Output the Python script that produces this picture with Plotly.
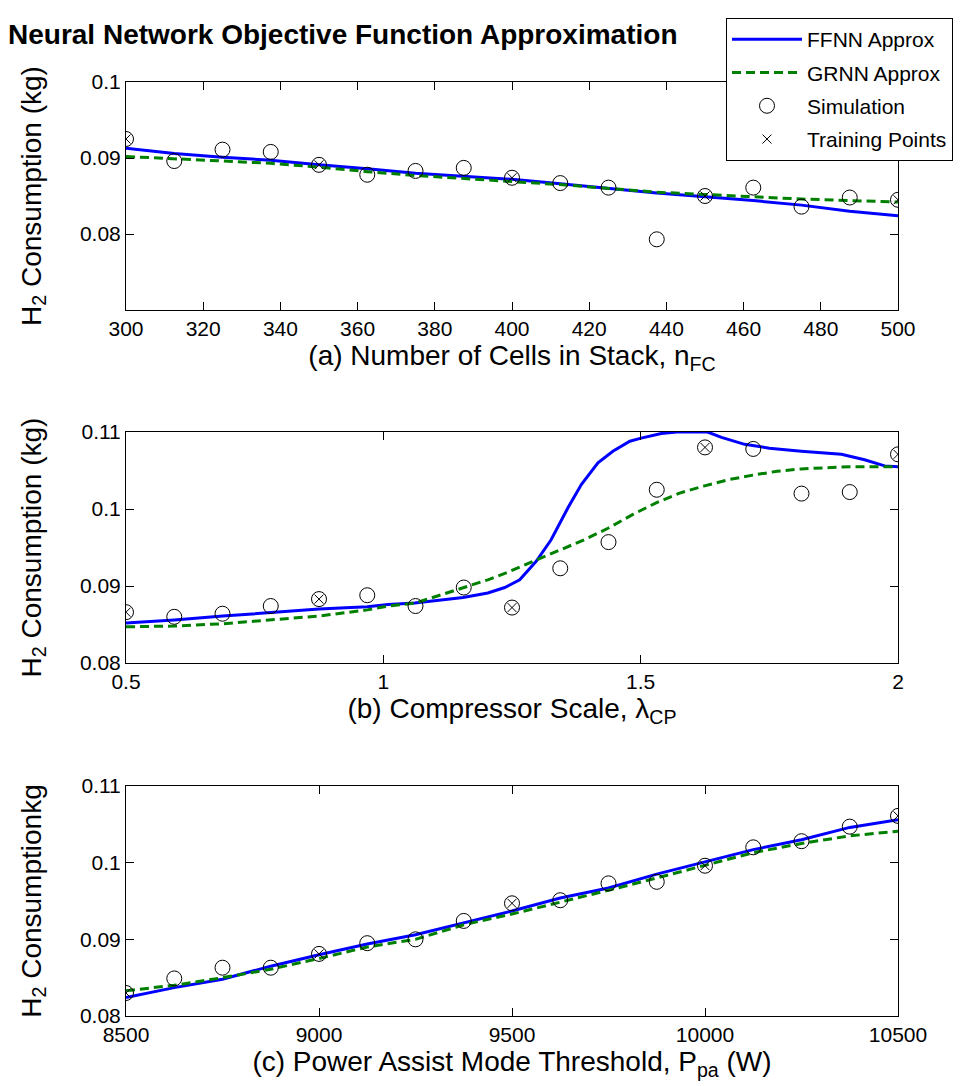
import plotly.graph_objects as go

# (a) number of cells in stack
x_a = [300, 312.5, 325, 337.5, 350, 362.5, 375, 387.5, 400, 412.5, 425,
       437.5, 450, 462.5, 475, 487.5, 500]
ffnn_a = [0.0913, 0.0906, 0.0901, 0.0897, 0.0891, 0.0886, 0.0880, 0.0876, 0.0872,
          0.0866, 0.0860, 0.0854, 0.0849, 0.0844, 0.0838, 0.0830, 0.0824]
grnn_a = [0.0902, 0.0899, 0.0896, 0.0893, 0.0888, 0.0882, 0.0877, 0.0873, 0.0869,
          0.0865, 0.0860, 0.0855, 0.0852, 0.0849, 0.0846, 0.0844, 0.0842]
sim_a = [0.0925, 0.0896, 0.0911, 0.0908, 0.0891, 0.0878, 0.0883, 0.0887, 0.0874,
         0.0867, 0.0861, 0.0793, 0.0850, 0.0861, 0.0836, 0.0848, 0.0845]
train_x_a = [300, 350, 400, 450, 500]
train_a = [0.0925, 0.0891, 0.0874, 0.0850, 0.0845]

# (b) compressor scale
x_b = [0.5, 0.59375, 0.6875, 0.78125, 0.875, 0.96875, 1.0625, 1.15625, 1.25,
       1.34375, 1.4375, 1.53125, 1.625, 1.71875, 1.8125, 1.90625, 2.0]
sim_b = [0.0866, 0.0860, 0.0864, 0.0874, 0.0883, 0.0888, 0.0874, 0.0898, 0.0872,
         0.0923, 0.0957, 0.1025, 0.1080, 0.1078, 0.1020, 0.1022, 0.1071]
train_x_b = [0.5, 0.875, 1.25, 1.625, 2.0]
train_b = [0.0866, 0.0883, 0.0872, 0.1080, 0.1071]
ffnn_x_b = [0.5, 0.594, 0.688, 0.781, 0.875, 0.969, 1.009, 1.061, 1.155, 1.203,
            1.236, 1.265, 1.297, 1.326, 1.359, 1.385, 1.417, 1.446, 1.479, 1.501,
            1.54, 1.57, 1.60, 1.63, 1.657, 1.702, 1.75, 1.812, 1.89, 1.935, 1.974, 2.0]
ffnn_b = [0.0852, 0.0856, 0.0861, 0.0865, 0.0870, 0.0873, 0.0876, 0.0878, 0.0885,
          0.0891, 0.0898, 0.0908, 0.0932, 0.0960, 0.1002, 0.1032, 0.1060, 0.1075,
          0.1088, 0.1092, 0.1098, 0.1100, 0.1100, 0.1100, 0.1093, 0.1084, 0.1079,
          0.1075, 0.1071, 0.1064, 0.1056, 0.1055]
grnn_x_b = [0.5, 0.594, 0.688, 0.781, 0.875, 0.969, 1.009, 1.063, 1.155, 1.203,
            1.242, 1.297, 1.343, 1.39, 1.4365, 1.485, 1.53, 1.577, 1.624, 1.67,
            1.718, 1.765, 1.812, 1.906, 2.0]
grnn_b = [0.0847, 0.0848, 0.0851, 0.0856, 0.0861, 0.0869, 0.0874, 0.0878, 0.0898,
          0.0908, 0.0918, 0.0934, 0.0947, 0.0960, 0.0975, 0.0993, 0.1008, 0.1021,
          0.1030, 0.1038, 0.1044, 0.1049, 0.1052, 0.1055, 0.1055]

# (c) power assist mode threshold
x_c = [8500, 8625, 8750, 8875, 9000, 9125, 9250, 9375, 9500, 9625, 9750, 9875,
       10000, 10125, 10250, 10375, 10500]
sim_c = [0.0830, 0.0849, 0.0863, 0.0863, 0.0881, 0.0895, 0.0900, 0.0924, 0.0947,
         0.0951, 0.0973, 0.0975, 0.0996, 0.1020, 0.1028, 0.1047, 0.1061]
train_x_c = [8500, 9000, 9500, 10000, 10500]
train_c = [0.0830, 0.0881, 0.0947, 0.0996, 0.1061]
ffnn_c = [0.0824, 0.0837, 0.0848, 0.0865, 0.0880, 0.0894, 0.0906, 0.0922, 0.0937,
          0.0954, 0.0967, 0.0985, 0.1001, 0.1017, 0.1030, 0.1046, 0.1056]
grnn_c = [0.0833, 0.0840, 0.0850, 0.0861, 0.0875, 0.0890, 0.0900, 0.0919, 0.0933,
          0.0948, 0.0964, 0.0980, 0.0996, 0.1013, 0.1025, 0.1035, 0.1041]

# tick labels
x_ticks_a = [300, 320, 340, 360, 380, 400, 420, 440, 460, 480, 500]
x_ticks_b = [0.5, 1, 1.5, 2]
x_ticks_c = [8500, 9000, 9500, 10000, 10500]
y_ticks_a = [0.08, 0.09, 0.1]
y_ticks_bc = [0.08, 0.09, 0.1, 0.11]

FONT = "Liberation Sans, Arial, Helvetica, sans-serif"
BLUE = "#0000ff"
GREEN = "#008000"

panels = [
    (x_a, ffnn_a, x_a, grnn_a, x_a, sim_a, train_x_a, train_a),
    (ffnn_x_b, ffnn_b, grnn_x_b, grnn_b, x_b, sim_b, train_x_b, train_b),
    (x_c, ffnn_c, x_c, grnn_c, x_c, sim_c, train_x_c, train_c),
]

fig = go.Figure()
for i, (fx, fy, gx, gy, sx, sy, tx, ty) in enumerate(panels):
    ax = "" if i == 0 else str(i + 1)
    show = i == 0
    fig.add_trace(go.Scatter(x=fx, y=fy, mode="lines", name="FFNN Approx",
                             line=dict(color=BLUE, width=3), showlegend=show,
                             legendgroup="f", xaxis="x" + ax, yaxis="y" + ax))
    fig.add_trace(go.Scatter(x=gx, y=gy, mode="lines", name="GRNN Approx",
                             line=dict(color=GREEN, width=3, dash="9px,5px"),
                             showlegend=show, legendgroup="g",
                             xaxis="x" + ax, yaxis="y" + ax))
    fig.add_trace(go.Scatter(x=sx, y=sy, mode="markers", name="Simulation",
                             marker=dict(symbol="circle-open", size=15, color="black",
                                         line=dict(width=1)),
                             showlegend=show, legendgroup="s",
                             xaxis="x" + ax, yaxis="y" + ax))
    fig.add_trace(go.Scatter(x=tx, y=ty, mode="markers", name="Training Points",
                             marker=dict(symbol="x-thin-open", size=9, color="black",
                                         line=dict(width=1, color="black")),
                             showlegend=show, legendgroup="t",
                             xaxis="x" + ax, yaxis="y" + ax))

W, H = 972, 1086
x_dom = [118 / W, 890 / W]
y_doms = [[1 - 302 / H, 1 - 74 / H], [1 - 655 / H, 1 - 424 / H], [1 - 1008 / H, 1 - 778 / H]]

x_titles = ["(a) Number of Cells in Stack, n<sub>FC</sub>",
            "(b) Compressor Scale, \u03bb<sub>CP</sub>",
            "(c) Power Assist Mode Threshold, P<sub>pa</sub> (W)"]
y_titles = ["H<sub>2</sub> Consumption (kg)", "H<sub>2</sub> Consumption (kg)",
            "H<sub>2</sub> Consumptionkg"]
x_ranges = [[300, 500], [0.5, 2], [8500, 10500]]
x_ticks = [x_ticks_a, x_ticks_b, x_ticks_c]
y_ranges = [[0.07, 0.1], [0.08, 0.11], [0.08, 0.11]]
y_ticks = [y_ticks_a, y_ticks_bc, y_ticks_bc]

axis_common = dict(showline=True, linecolor="black", linewidth=1, mirror="ticks",
                   ticks="inside", ticklen=8, tickwidth=1, tickcolor="black",
                   showgrid=False, zeroline=False, automargin=False,
                   tickfont=dict(family=FONT, size=21, color="black"))

layout = dict(
    width=W, height=H, margin=dict(l=0, r=0, t=0, b=0),
    paper_bgcolor="white", plot_bgcolor="white",
    font=dict(family=FONT, color="black"),
    title=dict(text="<b>Neural Network Objective Function Approximation</b>",
               x=0, xanchor="left", xref="paper", y=1 - 26 / H, yanchor="middle",
               yref="container", font=dict(family=FONT, size=28, color="black")),
    legend=dict(x=718 / W, xanchor="left", y=1 - 10 / H, yanchor="top",
                bgcolor="white", bordercolor="black", borderwidth=1,
                font=dict(family=FONT, size=21, color="black"),
                tracegroupgap=3, itemwidth=70),
    showlegend=True,
)
for i in range(3):
    ax = "" if i == 0 else str(i + 1)
    layout["xaxis" + ax] = dict(axis_common, domain=x_dom, range=x_ranges[i],
                                tickvals=x_ticks[i], ticktext=[f"{v:g}" for v in x_ticks[i]],
                                anchor="y" + ax,
                                title=dict(text=x_titles[i], standoff=6,
                                           font=dict(family=FONT, size=28, color="black")))
    layout["yaxis" + ax] = dict(axis_common, domain=y_doms[i], range=y_ranges[i],
                                tickvals=y_ticks[i], ticktext=[f"{v:g}" for v in y_ticks[i]],
                                anchor="x" + ax,
                                title=dict(text=y_titles[i], standoff=30,
                                           font=dict(family=FONT, size=28, color="black")))

fig.update_layout(layout)
fig.write_html("out.html")
